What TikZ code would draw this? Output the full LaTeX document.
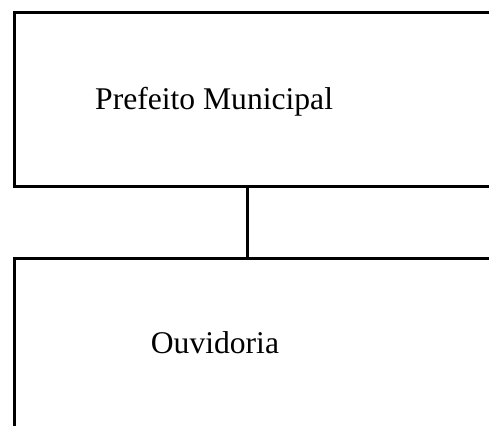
\documentclass[tikz,border=0pt]{standalone}
\usepackage{fontspec}
\setmainfont{Liberation Serif}
\begin{document}
\begin{tikzpicture}[x=1pt,y=-1pt,
  boxstyle/.style={draw=black,line width=3pt,rectangle,inner sep=0pt,anchor=north west},
  labelstyle/.style={inner sep=0pt,anchor=base west,font=\fontsize{31.6pt}{36pt}\selectfont}]
\useasboundingbox (0,0) rectangle (489,425);
\fill[white] (0,0) rectangle (489,425);
\clip (0,0) rectangle (489,425);
\node[boxstyle,minimum width=507.5pt,minimum height=173.5pt] (top) at (12.5,11.5) {};
\node[boxstyle,minimum width=507.5pt,minimum height=200pt] (bot) at (12.5,256.5) {};
\coordinate (c) at (247.5,0);
\draw[line width=3pt] (c |- top.south) -- (c |- bot.north);
\node[labelstyle] (t1) at (95,109.3) {Prefeito Municipal};
\node[labelstyle] (t2) at (150.7,353) {Ouvidoria};
\end{tikzpicture}
\end{document}
